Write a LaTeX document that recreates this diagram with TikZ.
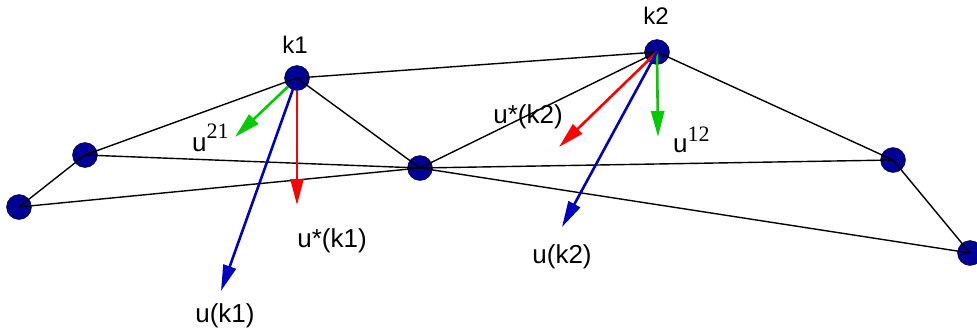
\documentclass[tikz,border=0pt]{standalone}
\usepackage{fontspec}
\setmainfont{Liberation Sans}
\newfontfamily\supserif{Liberation Serif}
\usetikzlibrary{arrows.meta}
\definecolor{dotblue}{RGB}{0,0,150}
\definecolor{ublue}{RGB}{0,0,190}
\definecolor{ured}{RGB}{255,0,0}
\definecolor{ugreen}{RGB}{0,204,0}
\newcommand{\upidx}[2]{u\raisebox{#1}{\supserif\fontsize{22}{22}\selectfont #2}}

\begin{document}
\begin{tikzpicture}[x=1pt, y=-1pt,
    dot/.style={circle, draw=black, fill=dotblue, minimum size=25pt, inner sep=0pt},
    edge/.style={black, line width=1.4pt},
    vec/.style={line width=2.6pt, -{Triangle[length=26pt, width=13pt]}},
    lab/.style={font=\fontsize{26}{30}\selectfont, inner sep=0pt},
    klab/.style={font=\fontsize{24}{28}\selectfont, inner sep=0pt}]
    \useasboundingbox (0,0) rectangle (977,335);

    % Mesh points
    \node[dot] (a) at (19,207) {};
    \node[dot] (b) at (85,155) {};
    \node[dot] (k1) at (297,78) {};
    \node[dot] (c) at (420,168) {};
    \node[dot] (k2) at (657,52) {};
    \node[dot] (d) at (893,160) {};
    \node[dot] (e) at (970,253) {};

    % Mesh edges
    \draw[edge] (a.center) -- (b.center) -- (k1.center) -- (c.center);
    \draw[edge] (k1.center) -- (k2.center) -- (d.center) -- (e.center);
    \draw[edge] (a.center) -- (c.center) -- (k2.center);
    \draw[edge] (b.center) -- (c.center) -- (d.center);
    \draw[edge] (c.center) -- (e.center);

    % Vectors at k1
    \coordinate (g1) at (235,137);
    \coordinate (r1) at (297,205);
    \coordinate (b1) at (221,291);
    \draw[vec, ugreen] (k1) -- (g1);
    \draw[vec, ured] (k1) -- (r1);
    \draw[vec, ublue] (k1) -- (b1);

    % Vectors at k2
    \coordinate (g2) at (658,137);
    \coordinate (r2) at (559,147);
    \coordinate (b2) at (562,227);
    \draw[vec, ugreen] (k2.center) -- (g2);
    \draw[vec, ured] (k2.center) -- (r2);
    \draw[vec, ublue] (k2.center) -- (b2);

    % Labels
    \node[klab] (tk1) at (295,45) {k1};
    \node[klab] (tk2) at (656,16) {k2};
    \node[lab, anchor=base west] (t21) at (192,151) {\upidx{13pt}{21}};
    \node[lab, anchor=base west] (t12) at (673,152) {\upidx{11pt}{12}};
    \node[lab] (ts1) at (332,241) {u*(k1)};
    \node[lab] (ts2) at (528,117) {u*(k2)};
    \node[lab] (tu1) at (225,316) {u(k1)};
    \node[lab] (tu2) at (562,257) {u(k2)};
\end{tikzpicture}
\end{document}
